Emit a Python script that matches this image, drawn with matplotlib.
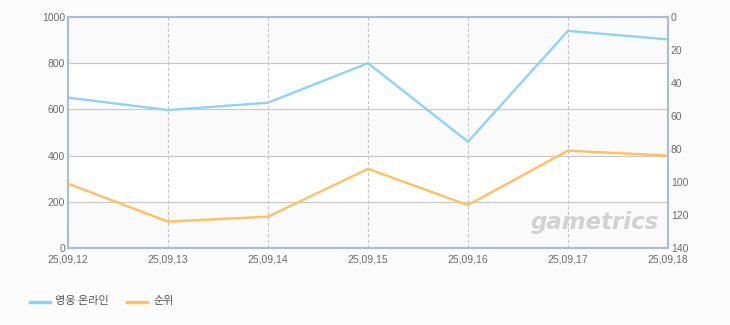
import matplotlib
matplotlib.use("Agg")
import matplotlib.pyplot as plt
from matplotlib.lines import Line2D

plt.rcParams['font.family'] = ['Noto Sans CJK KR', 'DejaVu Sans']

dates = ["25,09,12", "25,09,13", "25,09,14", "25,09,15", "25,09,16", "25,09,17", "25,09,18"]
users = [651, 597, 629, 800, 460, 940, 903]
rank = [101, 124, 121, 92, 114, 81, 84]
left_ticks = [0, 200, 400, 600, 800, 1000]
right_ticks = [0, 20, 40, 60, 80, 100, 120, 140]
series_names = ["영웅 온라인", "순위"]

blue = "#8fd2f2"
orange = "#ffc060"
tick_col = "#6a6a6a"
frame_col = "#aabdd2"

fig = plt.figure(figsize=(7.3, 3.25), dpi=100, facecolor="#fcfcfc")
ax = fig.add_axes([68/730, (325-248)/325, 600/730, 231/325])
ax.set_facecolor("white")
x = list(range(len(dates)))

ax.set_xlim(0, len(dates)-1)
ax.set_ylim(0, 1000)
# alternating bands
for i, (lo, hi) in enumerate(zip(left_ticks[:-1], left_ticks[1:])):
    if i % 2 == 0:
        ax.axhspan(lo, hi, color="#fafafa", zorder=0, lw=0)
for t in left_ticks[1:-1]:
    ax.axhline(t, color="#c9c9c9", lw=0.9, zorder=1)
for xi in x[1:-1]:
    ax.axvline(xi, color="#c4c4c4", lw=0.8, ls=(0, (3, 2)), zorder=1)

ax.plot(x, users, color=blue, lw=1.7, zorder=3, solid_joinstyle="miter")
ax.set_yticks(left_ticks)
ax.set_xticks(x)
ax.set_xticklabels(dates)
ax.tick_params(axis="both", length=0, colors=tick_col, labelsize=7.5, pad=2)
ax.tick_params(axis="x", pad=5)
for lab in ax.get_xticklabels() + ax.get_yticklabels():
    lab.set_family(['Liberation Sans', 'DejaVu Sans'])

ax2 = ax.twinx()
ax2.set_ylim(140, 0)
ax2.plot(x, rank, color=orange, lw=1.7, zorder=3, solid_joinstyle="miter")
ax2.set_yticks(right_ticks)
ax2.tick_params(axis="y", length=0, colors=tick_col, labelsize=7.5, pad=2)
for lab in ax2.get_yticklabels():
    lab.set_family(['Liberation Sans', 'DejaVu Sans'])

for a in (ax, ax2):
    for s in a.spines.values():
        s.set_color(frame_col)
        s.set_linewidth(1.5)

ax.text(0.985, 0.06, "gametrics", transform=ax.transAxes, ha="right", va="bottom",
        fontsize=16.5, fontstyle="italic", fontweight="bold", color="#d2d2d2",
        family=['DejaVu Sans'], zorder=2)

# legend
fig.lines.append(Line2D([30/730, 50/730], [1-302/325, 1-302/325], color=blue, lw=2.5, transform=fig.transFigure))
fig.text(55/730, 1-301/325, series_names[0], fontsize=8, color="#555555", va="center", ha="left")
fig.lines.append(Line2D([127/730, 147/730], [1-302/325, 1-302/325], color=orange, lw=2.5, transform=fig.transFigure))
fig.text(153/730, 1-301/325, series_names[1], fontsize=8, color="#555555", va="center", ha="left")

fig.savefig("out.png", dpi=100, facecolor=fig.get_facecolor())
